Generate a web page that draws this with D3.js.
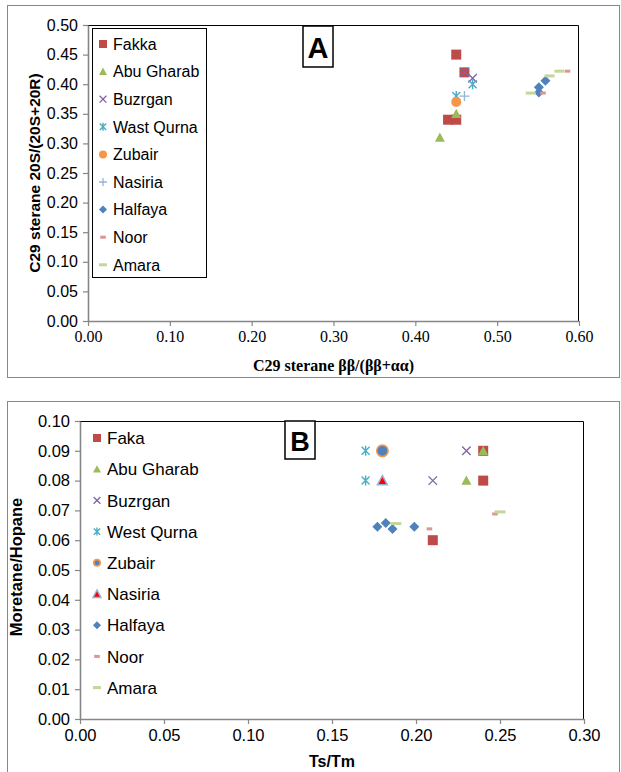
<!DOCTYPE html>
<html>
<head>
<meta charset="utf-8">
<script src="https://cdn.jsdelivr.net/npm/d3@7"></script>
<style>
  html, body { margin: 0; padding: 0; background: #fff; }
  svg { display: block; }
</style>
</head>
<body>
<svg id="chart" width="621" height="772"></svg>
<script>
// ---- Panel A: C29 sterane isomerisation ----
const seriesA = ["Fakka", "Abu Gharab", "Buzrgan", "Wast Qurna", "Zubair", "Nasiria", "Halfaya", "Noor", "Amara"];
const fakkaA     = [[0.45, 0.45], [0.46, 0.42], [0.44, 0.34], [0.45, 0.34]];
const abuGharabA = [[0.43, 0.31], [0.45, 0.35]];
const buzrganA   = [[0.46, 0.42], [0.47, 0.41]];
const wastQurnaA = [[0.47, 0.40], [0.45, 0.38]];
const zubairA    = [[0.45, 0.37]];
const nasiriaA   = [[0.46, 0.38]];
const halfayaA   = [[0.559, 0.406], [0.551, 0.395], [0.551, 0.386]];
const noorA      = [[0.586, 0.422], [0.556, 0.385]];
const amaraA     = [[0.576, 0.422], [0.564, 0.414], [0.541, 0.385]];
const xTicksA = [0, 0.1, 0.2, 0.3, 0.4, 0.5, 0.6];
const yTicksA = [0, 0.05, 0.1, 0.15, 0.2, 0.25, 0.3, 0.35, 0.4, 0.45, 0.5];

// ---- Panel B: Moretane/Hopane vs Ts/Tm ----
const seriesB = ["Faka", "Abu Gharab", "Buzrgan", "West Qurna", "Zubair", "Nasiria", "Halfaya", "Noor", "Amara"];
const fakaB      = [[0.24, 0.09], [0.24, 0.08], [0.21, 0.06]];
const abuGharabB = [[0.24, 0.09], [0.23, 0.08]];
const buzrganB   = [[0.23, 0.09], [0.21, 0.08]];
const westQurnaB = [[0.17, 0.09], [0.17, 0.08]];
const zubairB    = [[0.18, 0.09]];
const nasiriaB   = [[0.18, 0.08]];
const halfayaB   = [[0.177, 0.0645], [0.182, 0.0658], [0.186, 0.0638], [0.199, 0.0645]];
const noorB      = [[0.208, 0.0638], [0.247, 0.0688]];
const amaraB     = [[0.188, 0.0656], [0.250, 0.0695]];
const xTicksB = [0, 0.05, 0.1, 0.15, 0.2, 0.25, 0.3];
const yTicksB = [0, 0.01, 0.02, 0.03, 0.04, 0.05, 0.06, 0.07, 0.08, 0.09, 0.1];

const svg = d3.select("#chart");
const SANS = "Liberation Sans, Arial, sans-serif";
const SERIF = "Liberation Serif, Times New Roman, serif";

// marker drawing: each style draws one marker centred at (0,0) inside g
const C = {
  red: "#BE4B48", green: "#9BBB59", purple: "#8064A2", teal: "#4BACC6",
  orange: "#F79646", ltblue: "#95B3D7", blue: "#4F81BD", pink: "#D99694", ltgreen: "#C3D69B"
};
function drawMarker(g, kind, s) {
  const h = s / 2;
  switch (kind) {
    case "square":
      g.append("rect").attr("x", -h).attr("y", -h).attr("width", s).attr("height", s)
        .attr("fill", C.red); break;
    case "triangle":
      g.append("path").attr("d", `M0,${-h}L${h},${h * 0.85}L${-h},${h * 0.85}Z`).attr("fill", C.green); break;
    case "x":
      g.append("path").attr("d", `M${-h * 0.85},${-h * 0.85}L${h * 0.85},${h * 0.85}M${-h * 0.85},${h * 0.85}L${h * 0.85},${-h * 0.85}`)
        .attr("stroke", C.purple).attr("stroke-width", 1.3).attr("fill", "none"); break;
    case "star":
      g.append("path").attr("d", `M${-h * 0.8},${-h * 0.8}L${h * 0.8},${h * 0.8}M${-h * 0.8},${h * 0.8}L${h * 0.8},${-h * 0.8}M0,${-h}L0,${h}`)
        .attr("stroke", C.teal).attr("stroke-width", 1.4).attr("fill", "none"); break;
    case "circle":
      g.append("circle").attr("r", h).attr("fill", C.orange); break;
    case "circleB":
      g.append("circle").attr("r", h - 0.8).attr("fill", C.blue).attr("stroke", C.orange).attr("stroke-width", 1.6); break;
    case "triangleB":
      g.append("path").attr("d", `M0,${-h}L${h},${h * 0.85}L${-h},${h * 0.85}Z`)
        .attr("fill", "#FF0000").attr("stroke", C.ltblue).attr("stroke-width", 1.5); break;
    case "plus":
      g.append("path").attr("d", `M${-h},0L${h},0M0,${-h}L0,${h}`)
        .attr("stroke", C.ltblue).attr("stroke-width", 1.3).attr("fill", "none"); break;
    case "diamond":
      g.append("path").attr("d", `M0,${-h}L${h},0L0,${h}L${-h},0Z`).attr("fill", C.blue); break;
    case "dashPink":
      g.append("rect").attr("x", -s * 0.35).attr("y", -1.5).attr("width", s * 0.7).attr("height", 3).attr("fill", C.pink); break;
    case "dashGreen":
      g.append("rect").attr("x", -h).attr("y", -1.5).attr("width", s).attr("height", 3).attr("fill", C.ltgreen); break;
  }
}

function panel(cfg) {
  const { box, x, y, xTicks, yTicks, xFont, yFont, xTitle, yTitle, xTitleFont, yTitleFont } = cfg;
  // outer frame
  svg.append("rect").attr("x", box[0]).attr("y", box[1]).attr("width", box[2]).attr("height", box[3])
    .attr("fill", "#fff").attr("stroke", "#888").attr("stroke-width", 1);
  const [x0, x1] = x.range(), [y0, y1] = y.range();
  // plot frame (top and right in black)
  svg.append("path").attr("d", `M${x0},${y1 + 0.5}H${x1 - 0.5}V${y0}`)
    .attr("fill", "none").attr("stroke", "#000").attr("stroke-width", 1);

  const fmt = d3.format(".2f");
  const gx = svg.append("g").attr("transform", `translate(0,${y0})`)
    .call(d3.axisBottom(x).tickValues(xTicks).tickFormat(fmt).tickSize(5).tickSizeOuter(0).tickPadding(5));
  const gy = svg.append("g").attr("transform", `translate(${x0},0)`)
    .call(d3.axisLeft(y).tickValues(yTicks).tickFormat(fmt).tickSize(5).tickSizeOuter(0).tickPadding(5));
  [gx, gy].forEach(g => {
    g.select(".domain").attr("stroke", "#868686").attr("stroke-width", 1.6);
    g.selectAll(".tick line").attr("stroke", "#868686").attr("stroke-width", 1.2);
    g.selectAll(".tick text").attr("fill", "#000");
  });
  gx.selectAll(".tick text").style("font-family", xFont.family).style("font-size", xFont.size + "px");
  gy.selectAll(".tick text").style("font-family", yFont.family).style("font-size", yFont.size + "px");

  svg.append("text").attr("x", (x0 + x1) / 2).attr("y", xTitle.y).attr("text-anchor", "middle")
    .style("font-family", xTitleFont.family).style("font-size", xTitleFont.size + "px").style("font-weight", "bold")
    .text(xTitle.text);
  svg.append("text").attr("transform", `translate(${yTitle.x},${yTitle.cy}) rotate(-90)`).attr("text-anchor", "middle")
    .style("font-family", yTitleFont.family).style("font-size", yTitleFont.size + "px").style("font-weight", "bold")
    .text(yTitle.text);
}

function plotSeries(data, kind, size, x, y) {
  svg.append("g").selectAll("g").data(data).join("g")
    .attr("transform", d => `translate(${x(d[0])},${y(d[1])})`)
    .each(function () { drawMarker(d3.select(this), kind, size); });
}

function legend(names, kinds, x0, yStart, step, mSize, fontSize) {
  names.forEach((n, i) => {
    const g = svg.append("g").attr("transform", `translate(${x0},${yStart + i * step})`);
    drawMarker(g, kinds[i], mSize);
    g.append("text").attr("x", 10).attr("y", fontSize * 0.36)
      .style("font-family", SANS).style("font-size", fontSize + "px").text(n);
  });
}

// ---------- Panel A ----------
const xA = d3.scaleLinear().domain([0, 0.6]).range([88, 579]);
const yA = d3.scaleLinear().domain([0, 0.5]).range([321, 25]);
panel({
  box: [7.5, 5.5, 612, 372], x: xA, y: yA, xTicks: xTicksA, yTicks: yTicksA,
  xFont: { family: SERIF, size: 16 }, yFont: { family: SANS, size: 16 },
  xTitle: { text: "C29 sterane ββ/(ββ+αα)", y: 371 }, xTitleFont: { family: SERIF, size: 16 },
  yTitle: { text: "C29 sterane 20S/(20S+20R)", x: 40, cy: 173 }, yTitleFont: { family: SANS, size: 15.5 }
});
const kindsA = ["square", "triangle", "x", "star", "circle", "plus", "diamond", "dashPink", "dashGreen"];
const dataA = [fakkaA, abuGharabA, buzrganA, wastQurnaA, zubairA, nasiriaA, halfayaA, noorA, amaraA];
dataA.forEach((d, i) => plotSeries(d, kindsA[i], i === 7 ? 8 : 10, xA, yA));

svg.append("rect").attr("x", 92.5).attr("y", 28.5).attr("width", 114).attr("height", 249)
  .attr("fill", "none").attr("stroke", "#000").attr("stroke-width", 1);
legend(seriesA, kindsA, 103, 44, 27.6, 8, 16);

svg.append("rect").attr("x", 303).attr("y", 26).attr("width", 30).attr("height", 41)
  .attr("fill", "#fff").attr("stroke", "#000").attr("stroke-width", 1.5);
svg.append("text").attr("x", 318).attr("y", 58).attr("text-anchor", "middle")
  .style("font-family", SANS).style("font-size", "29px").style("font-weight", "bold").text("A");

// ---------- Panel B ----------
const xB = d3.scaleLinear().domain([0, 0.3]).range([80, 584]);
const yB = d3.scaleLinear().domain([0, 0.1]).range([719, 421]);
panel({
  box: [7.5, 401.5, 612, 372], x: xB, y: yB, xTicks: xTicksB, yTicks: yTicksB,
  xFont: { family: SANS, size: 16.5 }, yFont: { family: SANS, size: 16.5 },
  xTitle: { text: "Ts/Tm", y: 767 }, xTitleFont: { family: SANS, size: 16 },
  yTitle: { text: "Moretane/Hopane", x: 22, cy: 567 }, yTitleFont: { family: SANS, size: 16.5 }
});
const kindsB = ["square", "triangle", "x", "star", "circleB", "triangleB", "diamond", "dashPink", "dashGreen"];
const dataB = [fakaB, abuGharabB, buzrganB, westQurnaB, zubairB, nasiriaB, halfayaB, noorB, amaraB];
const sizesB = [10, 10, 10, 10, 13, 10, 10, 8, 11];
dataB.forEach((d, i) => plotSeries(d, kindsB[i], sizesB[i], xB, yB));

legend(seriesB, kindsB, 97, 438, 31.2, 8, 17);

svg.append("rect").attr("x", 285).attr("y", 421).attr("width", 30).attr("height", 38)
  .attr("fill", "#fff").attr("stroke", "#000").attr("stroke-width", 1.5);
svg.append("text").attr("x", 300).attr("y", 451).attr("text-anchor", "middle")
  .style("font-family", SANS).style("font-size", "27px").style("font-weight", "bold").text("B");
</script>
</body>
</html>
